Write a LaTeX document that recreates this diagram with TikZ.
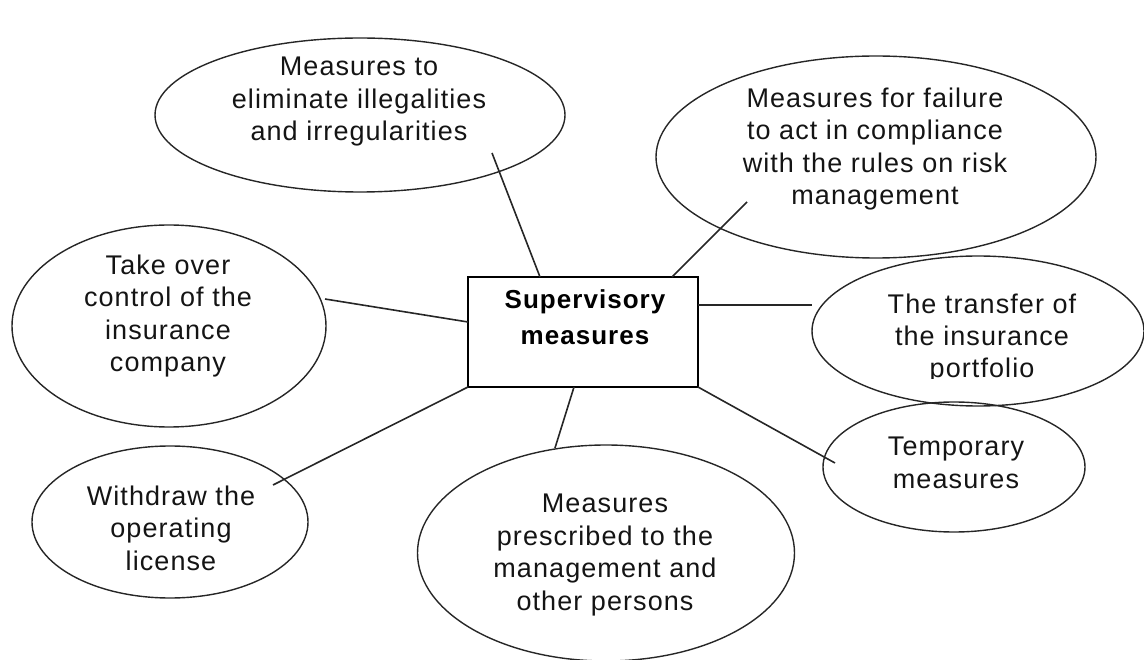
\documentclass[tikz,border=0pt]{standalone}
\usepackage{fontspec}
\setmainfont{Liberation Sans}[LetterSpace=4]
\usetikzlibrary{shapes.geometric,calc}
\begin{document}
\begin{tikzpicture}[x=1pt,y=-1pt,
  bubble/.style={draw=black!85,line width=1.4pt,ellipse,inner sep=0pt,outer sep=0pt},
  btext/.style={anchor=base,align=center,inner sep=0pt,text=black!92,font=\fontsize{27}{32.5}\selectfont},
  hub/.style={draw=black,line width=2pt,rectangle,inner sep=0pt,outer sep=0pt,minimum width=230pt,minimum height=110pt},
  htext/.style={anchor=base,align=center,inner sep=0pt,font=\fontsize{26}{36}\selectfont\bfseries},
  link/.style={draw=black!85,line width=1.6pt}]
\useasboundingbox (0,0) rectangle (1144,660);
% hub
\node[hub] (sup) at (583,332) {};
\node[htext] (supt) at (585,345) {Supervisory\\measures};
% bubbles
\node[bubble,minimum width=410pt,minimum height=154pt] (e1) at (360,115) {};
\node[btext] (e1t) at (359,141) {Measures to\\eliminate illegalities\\and irregularities};
\node[bubble,minimum width=440pt,minimum height=202pt] (e2) at (876,157) {};
\node[btext] (e2t) at (875,205) {Measures for failure\\to act in compliance\\with the rules on risk\\management};
\node[bubble,minimum width=314pt,minimum height=202pt] (e3) at (169,326) {};
\node[btext] (e3t) at (168,372) {Take over\\control of the\\insurance\\company};
\node[bubble,minimum width=332pt,minimum height=150pt] (e4) at (978,331) {};
\begin{scope}
\clip (800,280) rectangle (1144,379);
\node[btext] (e4t) at (982,378) {The transfer of\\the insurance\\portfolio};
\end{scope}
\node[bubble,minimum width=262pt,minimum height=130pt] (e5) at (954,467) {};
\node[btext] (e5t) at (956,488) {Temporary\\measures};
\node[bubble,minimum width=276pt,minimum height=152pt] (e6) at (170,522) {};
\node[btext] (e6t) at (171,570) {Withdraw the\\operating\\license};
\node[bubble,minimum width=377pt,minimum height=216pt] (e7) at (606,553) {};
\node[btext] (e7t) at (605,610) {Measures\\prescribed to the\\management and\\other persons};
% connector ends
\coordinate (c1) at (492,153);
\coordinate (c2) at (747,202);
\coordinate (c3) at (325,299);
\coordinate (c4) at (812,305);
\coordinate (c5) at (835,463);
\coordinate (c6) at (555,448);
\coordinate (c7) at (273,485);
\draw[link] ($(sup.north west)+(72,0)$) -- (c1);
\draw[link] ($(sup.north west)+(204,0)$) -- (c2);
\draw[link] ($(sup.north west)+(0,45)$) -- (c3);
\draw[link] ($(sup.north east)+(0,28)$) -- (c4);
\draw[link] (sup.south east) -- (c5);
\draw[link] ($(sup.south west)+(106,0)$) -- (c6);
\draw[link] (sup.south west) -- (c7);
\end{tikzpicture}
\end{document}
